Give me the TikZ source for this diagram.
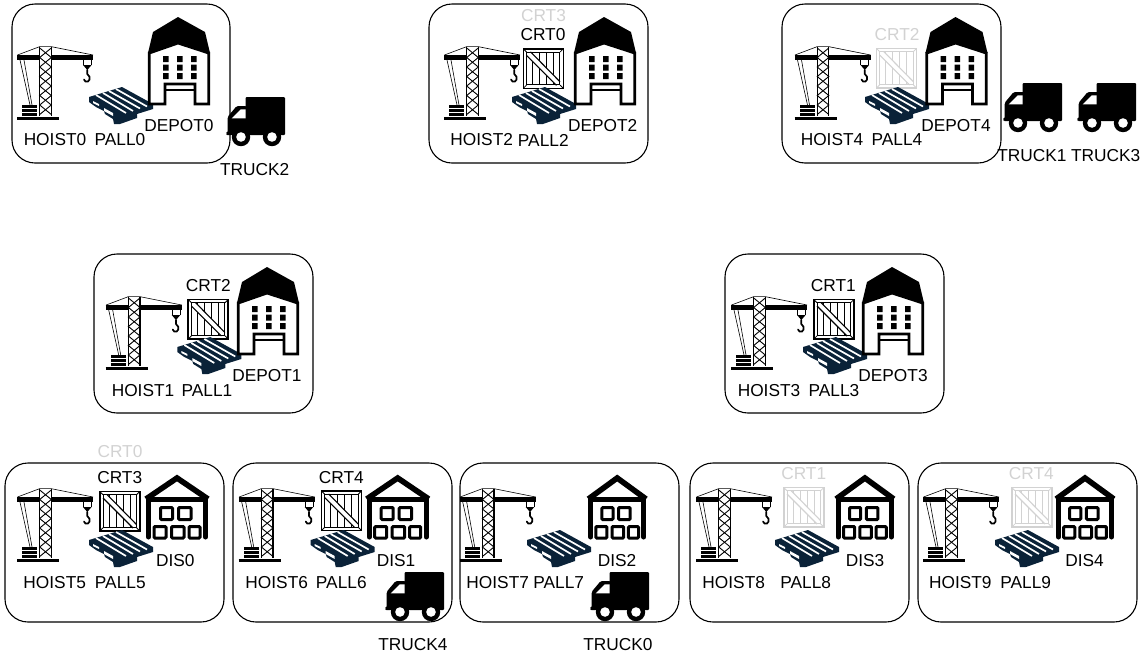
\documentclass[tikz,border=0pt]{standalone}
\usepackage{fontspec}
\setmainfont{Liberation Sans}
\definecolor{navy}{HTML}{0A2238}
\definecolor{ghost}{HTML}{D2D2D2}
\tikzset{
 panel/.style={draw=black,line width=1.1pt,rounded corners=23pt},
 lab/.style={font=\fontsize{17.3}{19}\selectfont,inner sep=0pt,text=black},
 glab/.style={lab,text=ghost},
 pics/crane/.style={code={
  \draw[line width=4.2pt] (17,57.5)--(93,57.5);
  \draw[line width=.6pt] (17.5,55)--(39.5,46.7)--(51.5,46.7)--(93,55);
  \draw[line width=.6pt] (20,60)--(30,105) (24,60)--(32,105);
  \fill[white] (39.5,46.7) rectangle (51.5,116);
  \draw[line width=1.3pt] (39.7,46.7)--(39.7,116) (51.3,46.7)--(51.3,116);
  \draw[line width=.9pt] (39.7,48)--(51.3,57.5)--(39.7,67)--(51.3,76.5)--(39.7,86)--(51.3,95.5)--(39.7,105)--(51.3,114.5);
  \draw[line width=.9pt] (51.3,48)--(39.7,57.5)--(51.3,67)--(39.7,76.5)--(51.3,86)--(39.7,95.5)--(51.3,105)--(39.7,114.5);
  \fill (22,105) rectangle (37,115.5);
  \draw[white,line width=.6pt] (22,108.5)--(37,108.5) (22,112)--(37,112);
  \draw[line width=3pt] (17,118)--(59,118);
  \draw[line width=.7pt] (83.3,60)--(83.3,65) (91.3,60)--(91.3,65);
  \fill (83,65)--(91.6,65)--(87.3,70)--cycle;
  \draw[line width=1.7pt,line cap=round] (87.3,70)--(87.3,74) .. controls (92,77) and (89,83.5) .. (85.5,81.5) -- (84,79.5);
 }},
 pics/pallet/.style={code={
  \fill[navy] (89,97)--(122,87)--(153,104)--(153,109)--(137,114)--(137,118)--(120,124)--(114,124)--(113,119)--(105,114)--(104,111)--(96,107)--(89,102)--cycle;
  \draw[white,line width=1.7pt] (96,95)--(126,113) (103,93)--(133,111) (109,91)--(140,108.5) (116,89)--(147,106.5);
  \fill[white] (93,101)--(99,104)--(99,106)--(93,103)--cycle (104,108)--(113,113)--(113,116)--(104,111)--cycle;
 }},
 pics/depot/.style={code={
  \fill (148,53)--(153,32)--(178,17)--(205,32)--(210,53)--(178,43)--cycle;
  \draw[line width=2.8pt,fill=white] (149.3,53)--(149.3,104)--(165,104)--(165,84)--(195,84)--(195,104)--(208.7,104)--(208.7,53)--(178,43)--cycle;
  \draw[line width=2pt] (165,90)--(195,90);
  \fill (163,56) rectangle (168.5,62) (177,56) rectangle (182.5,62) (191,56) rectangle (196.5,62)
        (163,64.5) rectangle (168.5,70.5) (177,64.5) rectangle (182.5,70.5) (191,64.5) rectangle (196.5,70.5)
        (163,73) rectangle (168.5,79) (177,73) rectangle (182.5,79) (191,73) rectangle (196.5,79);
 }},
 pics/dis/.style={code={
  \draw[line width=5.6pt,line join=miter] (-31,499)--(0,478)--(31,499);
  \draw[line width=4.4pt] (-31,499.5)--(31,499.5);
  \draw[line width=5pt,line cap=round] (-28.5,499)--(-28.5,537) (28.5,499)--(28.5,537);
  \draw[line width=3pt,rounded corners=1pt] (-16.5,507.5) rectangle (-4.5,519.5) (1.5,507.5) rectangle (14,519.5)
   (-23,526.5) rectangle (-11,538) (-5.5,526.5) rectangle (7,538) (12,526.5) rectangle (23,538);
 }},
 pics/crate/.style={code={
  \draw[#1,line width=.6pt] (109,495)--(109,528) (116,495)--(116,528) (123,495)--(123,528) (130,495)--(130,528);
  \fill[white] (103,498)--(107,494.5)--(136.5,524.5)--(133,528)--cycle;
  \draw[#1,line width=1.1pt] (103,498)--(133,528) (107,494.5)--(136.5,524.5);
  \draw[#1,line width=1.5pt] (99.8,491.5) rectangle (139.8,531);
  \draw[#1,line width=1.1pt] (103.2,494.9) rectangle (136.4,527.6);
  \draw[#1,line width=.8pt] (99.8,491.5)--(103,494.7) (139.8,491.5)--(136.6,494.7) (99.8,531)--(103,527.8) (139.8,531)--(136.6,527.8);
 }},
 pics/truck/.style={code={
  \fill[rounded corners=1pt] (245.5,97)--(285,97)--(285,135)--(245.5,135)--cycle;
  \fill[rounded corners=1.5pt] (226,135)--(226,133)--(227.7,133)--(227.7,116.7)--(236.7,106)--(247,106)--(247,135)--cycle;
  \fill[white] (231.7,118.3)--(240.7,109.3)--(245.7,109.3)--(245.7,118.3)--cycle;
  \fill[black] (241,137) circle (9.2) (272,137) circle (9.2);
  \fill[white] (241,137) circle (4.8) (272,137) circle (4.8);
 }},
}
\begin{document}
\begin{tikzpicture}[x=1pt,y=-1pt]
\useasboundingbox (0,0) rectangle (1148,654);
% panels
\draw[panel] (12,4) rectangle (230,163);
\draw[panel] (429,4) rectangle (648,163);
\draw[panel] (782,4) rectangle (1001,163);
\draw[panel] (94,254) rectangle (313,413);
\draw[panel] (725,254) rectangle (944,413);
\draw[panel] (5,463) rectangle (224,622);
\draw[panel] (233,463) rectangle (452,622);
\draw[panel] (460,463) rectangle (679,622);
\draw[panel] (690,463) rectangle (909,622);
\draw[panel] (918,463) rectangle (1137,622);
% top row
\pic at (0,0) {crane};\pic at (0,0) {pallet};\pic at (0,0) {depot};\pic at (0,0) {truck};
\pic at (427,0) {crane};\pic at (423.5,-442.7) {crate=black};\pic at (423,0) {pallet};\pic at (426,0) {depot};
\pic at (777.5,0) {crane};\pic at (776.7,-443) {crate=ghost};\pic at (776,0) {pallet};\pic at (777.5,0) {depot};
\pic at (777,-14) {truck};\pic at (851,-14) {truck};
% middle row
\pic at (88.7,250) {crane};\pic at (88.4,-192) {crate=black};\pic at (88.3,250) {pallet};\pic at (89,250) {depot};
\pic at (714,250) {crane};\pic at (714,-192) {crate=black};\pic at (714,250) {pallet};\pic at (714,250) {depot};
% bottom row
\pic at (0,442) {crane};\pic at (0,0) {crate=black};\pic at (0,443) {pallet};\pic at (177,0) {dis};
\pic at (221.7,442) {crane};\pic at (221.7,-.5) {crate=black};\pic at (221.7,443) {pallet};\pic at (397.7,0) {dis};\pic at (159,475) {truck};
\pic at (442.7,442) {crane};\pic at (438,443) {pallet};\pic[xscale=.93] at (617.2,0) {dis};\pic at (364,475) {truck};
\pic at (679,442) {crane};\pic at (684,-4) {crate=ghost};\pic at (686,443) {pallet};\pic[xscale=.93] at (864.9,0) {dis};
\pic at (906,442) {crane};\pic at (912,-4) {crate=ghost};\pic at (906,443) {pallet};\pic[xscale=.93] at (1085,0) {dis};
% labels
\node[lab] (h0) at (55,140) {HOIST0};\node[lab] (p0) at (120,140) {PALL0};\node[lab] (d0) at (179,126) {DEPOT0};\node[lab] (t2) at (254.7,170) {TRUCK2};
\node[lab] (h2) at (481.7,140) {HOIST2};\node[lab] (p2) at (543.3,140) {PALL2};\node[lab] (d2) at (602.7,126) {DEPOT2};\node[lab] (c0) at (543,35) {CRT0};\node[glab] (c3g) at (543.5,15.5) {CRT3};
\node[lab] (h4) at (832,140) {HOIST4};\node[lab] (p4) at (897,140) {PALL4};\node[lab] (d4) at (956,126) {DEPOT4};\node[glab] (c2g) at (897,35) {CRT2};\node[lab] (t1) at (1032,156) {TRUCK1};\node[lab] (t3) at (1105.7,156) {TRUCK3};
\node[lab] (h1) at (143,390.7) {HOIST1};\node[lab] (p1) at (207,390.7) {PALL1};\node[lab] (d1) at (267,376) {DEPOT1};\node[lab] (c2) at (208.3,286) {CRT2};
\node[lab] (h3) at (769,390.7) {HOIST3};\node[lab] (p3) at (834,390.7) {PALL3};\node[lab] (d3) at (893,376) {DEPOT3};\node[lab] (c1) at (833.3,286) {CRT1};
\node[lab] (h5) at (54.7,582.7) {HOIST5};\node[lab] (p5) at (120.3,582.7) {PALL5};\node[lab] (di0) at (175.3,560.7) {DIS0};\node[lab] (c3) at (119.7,478) {CRT3};\node[glab] (c0g) at (120,451.7) {CRT0};
\node[lab] (h6) at (276.7,582.7) {HOIST6};\node[lab] (p6) at (341.3,582.7) {PALL6};\node[lab] (di1) at (396,560.7) {DIS1};\node[lab] (c4) at (341.3,478) {CRT4};\node[lab] (t4) at (413,645) {TRUCK4};
\node[lab] (h7) at (497.7,582.7) {HOIST7};\node[lab] (p7) at (558.7,582.7) {PALL7};\node[lab] (di2) at (617,560.7) {DIS2};\node[lab] (t0) at (618,645) {TRUCK0};
\node[lab] (h8) at (733.7,582.7) {HOIST8};\node[lab] (p8) at (805.7,582.7) {PALL8};\node[lab] (di3) at (865,560.7) {DIS3};\node[glab] (c1g) at (803.7,474) {CRT1};
\node[lab] (h9) at (960.3,582.7) {HOIST9};\node[lab] (p9) at (1025.7,582.7) {PALL9};\node[lab] (di4) at (1084.5,560.7) {DIS4};\node[glab] (c4g) at (1031.3,474) {CRT4};
\end{tikzpicture}
\end{document}
